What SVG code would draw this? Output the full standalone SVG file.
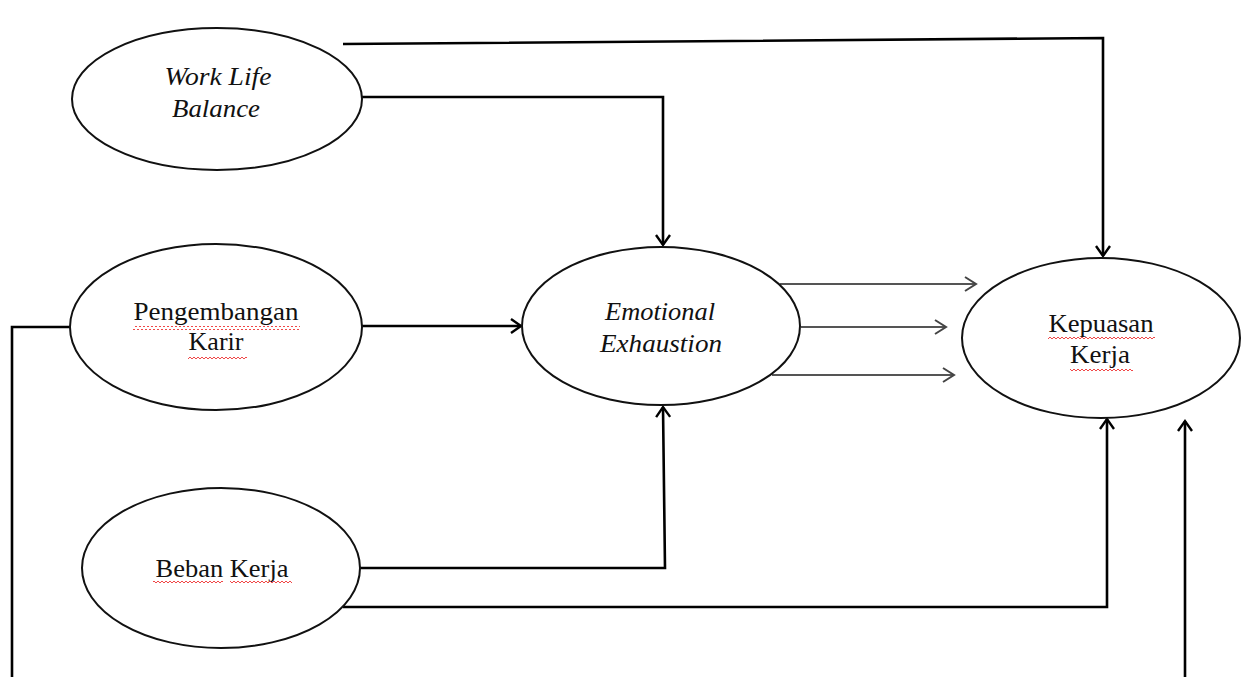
<svg xmlns="http://www.w3.org/2000/svg" width="1246" height="677" viewBox="0 0 1246 677">
<style>
.node ellipse{fill:#fff;stroke:#111;stroke-width:2}
.lbl{font-family:"Liberation Serif","Times New Roman",serif;font-size:25px;fill:#111;text-anchor:middle}
.it{font-style:italic}
.conn{fill:none;stroke:#000;stroke-width:2.6}
.thin{fill:none;stroke:#555;stroke-width:2.2}
</style>
<defs>
<marker id="ah" markerUnits="userSpaceOnUse" markerWidth="24" markerHeight="24" refX="0" refY="0" viewBox="-12 -12 24 24" orient="auto" overflow="visible">
<path d="M-10,-7 L0,0 L-10,7" fill="none" stroke="#000" stroke-width="2.4"/>
</marker>
<marker id="ahg" markerUnits="userSpaceOnUse" markerWidth="24" markerHeight="24" refX="0" refY="0" viewBox="-12 -12 24 24" orient="auto" overflow="visible">
<path d="M-11,-7 L0,0 L-11,7" fill="none" stroke="#444" stroke-width="2"/>
</marker>
<pattern id="squig" patternUnits="userSpaceOnUse" width="4" height="4">
<path d="M0,3 L2,1 L4,3" fill="none" stroke="#e33" stroke-width="0.9"/>
</pattern>
</defs>
<g id="connectors">
<path class="conn" d="M343,44 L1103,38 L1103,256" marker-end="url(#ah)"/>
<path class="conn" d="M362,97 L663,97 L663,245" marker-end="url(#ah)"/>
<path class="conn" d="M362,326 L521,326" marker-end="url(#ah)"/>
<path class="conn" d="M70,327 L12,327 L12,677"/>
<path class="conn" d="M360,568 L665,568 L663,407" marker-end="url(#ah)"/>
<path class="conn" d="M343,607 L1107,607 L1107,419" marker-end="url(#ah)"/>
<path class="conn" d="M1185,677 L1185,421" marker-end="url(#ah)"/>
<path class="thin" d="M780,284 L976,284" marker-end="url(#ahg)"/>
<path class="thin" d="M801,327 L946,327" marker-end="url(#ahg)"/>
<path class="thin" d="M772,375 L954,375" marker-end="url(#ahg)"/>
</g>
<g id="work-life-balance" class="node">
<ellipse cx="217" cy="99" rx="145" ry="71"/>
<text class="lbl it" x="218" y="85" textLength="107" lengthAdjust="spacingAndGlyphs">Work Life</text>
<text class="lbl it" x="216" y="117" textLength="88" lengthAdjust="spacingAndGlyphs">Balance</text>
</g>
<g id="pengembangan-karir" class="node">
<ellipse cx="216" cy="327" rx="146" ry="83"/>
<text class="lbl" x="216" y="320" textLength="165" lengthAdjust="spacingAndGlyphs">Pengembangan</text>
<text class="lbl" x="216" y="350" textLength="55" lengthAdjust="spacingAndGlyphs">Karir</text>
<rect x="133" y="326" width="167" height="4" fill="url(#squig)"/>
<rect x="188" y="356" width="59" height="4" fill="url(#squig)"/>
</g>
<g id="emotional-exhaustion" class="node">
<ellipse cx="661" cy="326" rx="139" ry="79"/>
<text class="lbl it" x="660" y="320" textLength="110" lengthAdjust="spacingAndGlyphs">Emotional</text>
<text class="lbl it" x="661" y="352" textLength="122" lengthAdjust="spacingAndGlyphs">Exhaustion</text>
</g>
<g id="kepuasan-kerja" class="node">
<ellipse cx="1101" cy="338" rx="139" ry="80"/>
<text class="lbl" x="1101" y="332" textLength="105" lengthAdjust="spacingAndGlyphs">Kepuasan</text>
<text class="lbl" x="1100" y="363" textLength="60" lengthAdjust="spacingAndGlyphs">Kerja</text>
<rect x="1048" y="337" width="107" height="4" fill="url(#squig)"/>
<rect x="1070" y="367" width="63" height="4" fill="url(#squig)"/>
</g>
<g id="beban-kerja" class="node">
<ellipse cx="221" cy="568" rx="139" ry="80"/>
<text class="lbl" x="222" y="577" textLength="133" lengthAdjust="spacingAndGlyphs">Beban Kerja</text>
<rect x="153" y="581" width="70" height="4" fill="url(#squig)"/>
<rect x="230" y="581" width="62" height="4" fill="url(#squig)"/>
</g>
</svg>
